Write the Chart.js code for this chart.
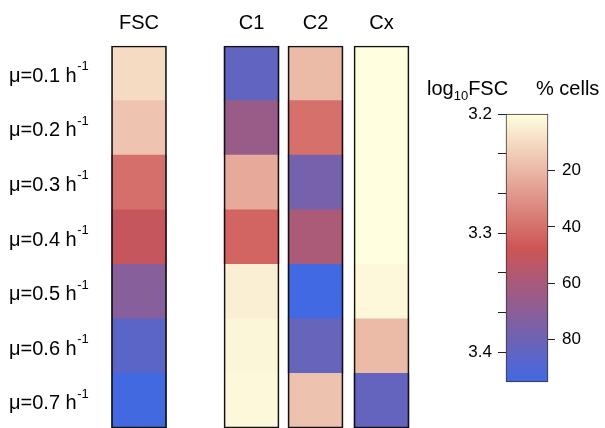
<!DOCTYPE html>
<html>
<head>
<meta charset="utf-8">
<script src="https://cdn.jsdelivr.net/npm/chart.js@4/dist/chart.umd.min.js"></script>
<style>
  html, body { margin: 0; padding: 0; background: #fff; }
  #wrap { position: relative; width: 605px; height: 428px; overflow: hidden; }
  #wrap canvas { position: absolute; left: 0; top: 0; }
</style>
</head>
<body>
<div id="wrap">
  <canvas id="heat" width="605" height="428"></canvas>
  <canvas id="scale" width="605" height="428"></canvas>
</div>
<script>
// Growth rates (one row each)
const growthRates = [0.1, 0.2, 0.3, 0.4, 0.5, 0.6, 0.7];
// Heatmap columns
const columns = ['FSC', 'C1', 'C2', 'Cx'];
// Mean log10 forward scatter per growth rate
const fscLog10 = [3.224, 3.239, 3.295, 3.319, 3.369, 3.405, 3.424];
// Share of cells (%) in each cluster per growth rate
const c1Pct = [84, 65, 24, 43, 4.5, 2.5, 2];
const c2Pct = [19, 40, 77, 59, 95, 82, 17];
const cxPct = [0, 0, 0, 0, 2, 19, 83];
// Colour-key ranges and tick labels
const fscRange = [3.2, 3.425];
const pctRange = [0, 95];
const fscTicks = [3.2, 3.3, 3.4];
const pctTicks = [20, 40, 60, 80];

const columnValues = { FSC: fscLog10, C1: c1Pct, C2: c2Pct, Cx: cxPct };

// ---- layout / style ----
const FONT = '"Liberation Sans", Arial, Helvetica, sans-serif';
const PITCH = 64;                 // px per x unit
const FIRST_COL_PX = 139;         // centre of first column
const COL_X = { FSC: 0, C1: 1.758, C2: 2.758, Cx: 3.789 };
const RAMP = [[255, 255, 224], [205, 85, 85], [65, 105, 225]];

function rampColor(t) {
  t = Math.max(0, Math.min(1, t));
  const seg = t < 0.5 ? 0 : 1;
  const u = seg === 0 ? t * 2 : (t - 0.5) * 2;
  const a = RAMP[seg], b = RAMP[seg + 1];
  const c = a.map((v, k) => Math.round(v + (b[k] - v) * u));
  return `rgb(${c[0]},${c[1]},${c[2]})`;
}
const norm = (v, r) => (v - r[0]) / (r[1] - r[0]);

const cellSets = columns.map(name => ({
  label: name,
  data: columnValues[name].map((v, i) => ({ x: COL_X[name], y: [i, i + 1] })),
  backgroundColor: columnValues[name].map(v =>
    rampColor(name === 'FSC' ? norm(v, fscRange) : norm(v, pctRange))),
  borderWidth: 0,
  barThickness: 55,
  order: 2
}));
const outlineSets = columns.map(name => ({
  label: name + ' frame',
  data: [{ x: COL_X[name], y: [0, growthRates.length] }],
  backgroundColor: 'rgba(0,0,0,0)',
  borderColor: '#111',
  borderWidth: 1,
  borderSkipped: false,
  barThickness: 55,
  order: 1,
  clip: 3
}));

const heatLabels = {
  id: 'heatLabels',
  afterDraw(chart) {
    const { ctx, scales: { x, y } } = chart;
    ctx.save();
    ctx.fillStyle = '#000';
    ctx.textBaseline = 'alphabetic';
    ctx.font = `20px ${FONT}`;
    ctx.textAlign = 'center';
    columns.forEach(n => ctx.fillText(n, x.getPixelForValue(COL_X[n]), 29));
    ctx.textAlign = 'left';
    growthRates.forEach((r, i) => {
      const cy = y.getPixelForValue(i + 0.5);
      ctx.font = `20px ${FONT}`;
      const base = 'μ=' + r.toFixed(1) + ' h';
      ctx.fillText(base, 9, cy + 8.5);
      const w = ctx.measureText(base).width;
      ctx.font = `13px ${FONT}`;
      ctx.fillText('-1', 9 + w + 0.5, cy - 3);
    });
    ctx.restore();
  }
};

new Chart(document.getElementById('heat'), {
  type: 'bar',
  data: { datasets: [...cellSets, ...outlineSets] },
  options: {
    responsive: false,
    animation: false,
    layout: { padding: { top: 46, left: 0, right: 0, bottom: 0 } },
    plugins: { legend: { display: false }, tooltip: { enabled: false } },
    datasets: { bar: { grouped: false } },
    scales: {
      x: { type: 'linear', display: false, offset: false,
           min: -FIRST_COL_PX / PITCH, max: (605 - FIRST_COL_PX) / PITCH },
      y: { type: 'linear', display: false, reverse: true, min: 0, max: growthRates.length }
    }
  },
  plugins: [heatLabels]
});

// ---- colour key ----
const fscTickValues = [];
fscTicks.forEach((t, i) => {
  fscTickValues.push(t);
  if (i < fscTicks.length - 1) {
    const n = fscTicks[i + 1];
    fscTickValues.push(t + (n - t) / 3, t + 2 * (n - t) / 3);
  }
});

const keyTitles = {
  id: 'keyTitles',
  afterDraw(chart) {
    const { ctx } = chart;
    ctx.save();
    ctx.fillStyle = '#000';
    ctx.textAlign = 'left';
    ctx.textBaseline = 'alphabetic';
    let x = 427;
    ctx.font = `20px ${FONT}`;
    ctx.fillText('log', x, 95);
    x += ctx.measureText('log').width;
    ctx.font = `13px ${FONT}`;
    ctx.fillText('10', x, 100);
    x += ctx.measureText('10').width;
    ctx.font = `20px ${FONT}`;
    ctx.fillText('FSC', x, 95);
    ctx.fillText('% cells', 536, 95);
    ctx.restore();
  }
};

const CB = { left: 506, right: 548, top: 114, bottom: 382 };
const LEFT_W = 60, RIGHT_W = 50;

new Chart(document.getElementById('scale'), {
  type: 'bar',
  data: {
    labels: ['key'],
    datasets: [{
      data: [fscRange],
      yAxisID: 'yL',
      backgroundColor(c) {
        const a = c.chart.chartArea;
        if (!a) return null;
        const g = c.chart.ctx.createLinearGradient(0, a.top, 0, a.bottom);
        RAMP.forEach((col, k) => g.addColorStop(k / (RAMP.length - 1), `rgb(${col.join(',')})`));
        return g;
      },
      borderColor: '#333',
      borderWidth: 1,
      borderSkipped: false,
      barPercentage: 1,
      categoryPercentage: 1,
      clip: 3
    }]
  },
  options: {
    responsive: false,
    animation: false,
    layout: { padding: { left: CB.left - LEFT_W, right: 605 - CB.right - RIGHT_W, top: CB.top, bottom: 428 - CB.bottom } },
    plugins: { legend: { display: false }, tooltip: { enabled: false } },
    scales: {
      x: { display: false },
      yL: {
        type: 'linear', position: 'left', reverse: true,
        min: fscRange[0], max: fscRange[1],
        afterBuildTicks(s) { s.ticks = fscTickValues.map(v => ({ value: v })); },
        afterFit(s) { s.width = LEFT_W; },
        grid: { drawOnChartArea: false, drawTicks: true, tickLength: 8, color: '#222' },
        border: { display: false },
        ticks: {
          autoSkip: false, padding: 6, color: '#000', font: { size: 17, family: FONT },
          callback(v) { return fscTicks.some(t => Math.abs(t - v) < 1e-6) ? v.toFixed(1) : ''; }
        }
      },
      yR: {
        type: 'linear', position: 'right', reverse: true,
        min: pctRange[0], max: pctRange[1],
        afterBuildTicks(s) { s.ticks = pctTicks.map(v => ({ value: v })); },
        afterFit(s) { s.width = RIGHT_W; },
        grid: { drawOnChartArea: false, drawTicks: true, tickLength: 7, color: '#222' },
        border: { display: false },
        ticks: { autoSkip: false, padding: 7, color: '#000', font: { size: 17, family: FONT } }
      }
    }
  },
  plugins: [keyTitles]
});
</script>
</body>
</html>
